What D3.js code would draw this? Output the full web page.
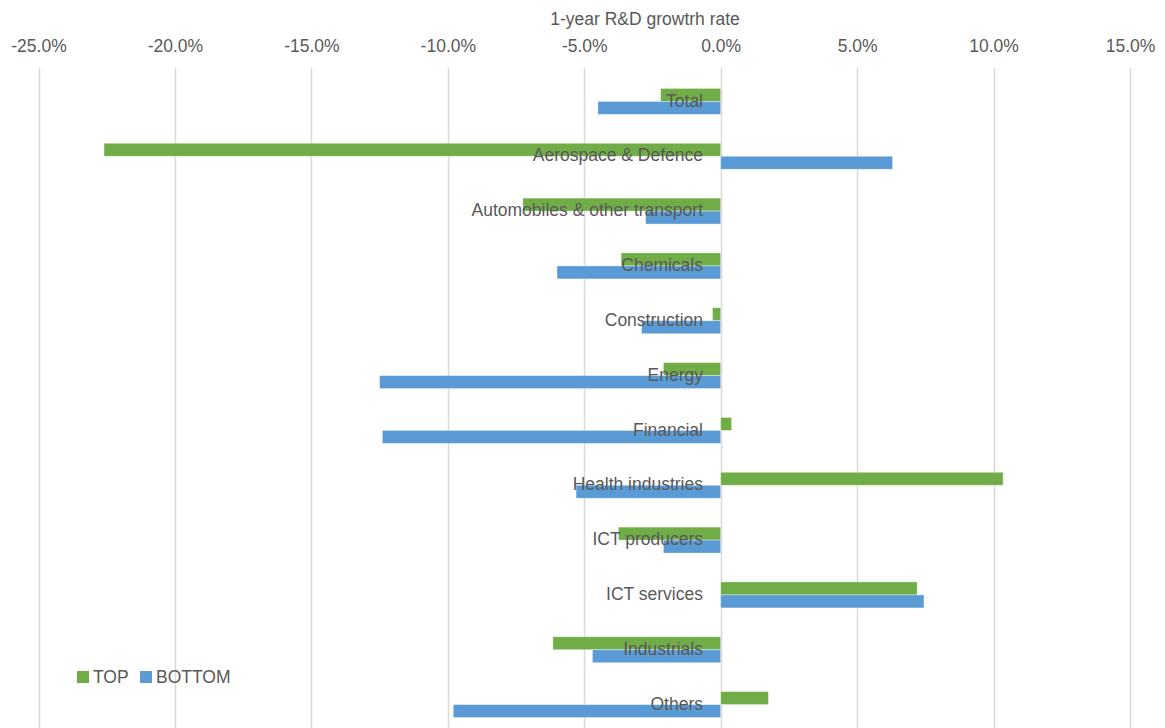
<!DOCTYPE html>
<html><head><meta charset="utf-8">
<script src="https://cdn.jsdelivr.net/npm/d3@7"></script>
<style>body{margin:0;background:#fff}svg{display:block}</style>
</head><body><svg id="c" width="1165" height="728"></svg>
<script>
const categories = ["Total","Aerospace & Defence","Automobiles & other transport","Chemicals","Construction","Energy","Financial","Health industries","ICT producers","ICT services","Industrials","Others"];
const topValues = [-2.2,-22.6,-7.25,-3.65,-0.3,-2.1,0.4,10.35,-3.75,7.2,-6.15,1.75];
const bottomValues = [-4.5,6.3,-2.75,-6.0,-2.9,-12.5,-12.4,-5.3,-2.1,7.45,-4.7,-9.8];
const seriesNames = ["TOP","BOTTOM"];
const tickValues = [-25,-20,-15,-10,-5,0,5,10,15];
const colors = ["#70AD47","#5B9BD5"];
const font = "'Liberation Sans',Arial,sans-serif";
const fs = 17.5;
const textColor = "#595959";

const svg = d3.select("#c");
const x = d3.scaleLinear().domain([-25,15]).range([38.5,1130]);
const y = d3.scaleBand().domain(categories).range([74,732]).paddingInner(0).paddingOuter(0);
const sub = d3.scaleBand().domain(seriesNames).range([0,26]);
const subOffset = (y.bandwidth()-26)/2;

// gridlines
svg.append("g").selectAll("line").data(tickValues).join("line")
  .attr("x1",d=>Math.round(x(d))+0.5).attr("x2",d=>Math.round(x(d))+0.5)
  .attr("y1",68).attr("y2",728).attr("stroke","#d9d9d9").attr("stroke-width",1.5);

// top axis
const ax = svg.append("g").attr("transform","translate(0,46)")
  .call(d3.axisTop(x).tickValues(tickValues).tickSize(0).tickFormat(d=>d.toFixed(1)+"%"));
ax.select(".domain").remove();
ax.selectAll("text").attr("font-family",font).attr("font-size",fs).attr("fill",textColor).attr("dy","0.35em").attr("y",0);

svg.append("text").attr("x",645).attr("y",19).attr("dy","0.35em").attr("text-anchor","middle")
  .attr("font-family",font).attr("font-size",fs).attr("fill",textColor).text("1-year R&D growtrh rate");

const data = categories.map((c,i)=>({c, vals:[topValues[i],bottomValues[i]]}));
const rows = svg.append("g").selectAll("g").data(data).join("g")
  .attr("transform",d=>`translate(0,${y(d.c)+subOffset})`);
rows.selectAll("rect").data(d=>d.vals.map((v,j)=>({v,s:seriesNames[j],j}))).join("rect")
  .attr("x",d=>x(Math.min(0,d.v))).attr("width",d=>Math.abs(x(d.v)-x(0)))
  .attr("y",d=>sub(d.s)).attr("height",sub.bandwidth())
  .attr("fill",d=>colors[d.j]).attr("stroke","#ffffff").attr("stroke-opacity",0.5).attr("stroke-width",0.75);

svg.append("g").selectAll("text").data(categories).join("text")
  .attr("x",703).attr("y",d=>y(d)+y.bandwidth()/2-1).attr("dy","0.35em").attr("text-anchor","end")
  .attr("font-family",font).attr("font-size",fs).attr("fill",textColor).text(d=>d);

// legend
const lg = svg.append("g").attr("transform","translate(77,677)");
const items = [{n:"TOP",c:colors[0],x:0},{n:"BOTTOM",c:colors[1],x:63}];
items.forEach(it=>{
  lg.append("rect").attr("x",it.x).attr("y",-6).attr("width",12).attr("height",12).attr("fill",it.c);
  lg.append("text").attr("x",it.x+16).attr("y",0).attr("dy","0.35em").attr("font-family",font)
    .attr("font-size",fs).attr("fill",textColor).text(it.n);
});
</script></body></html>
